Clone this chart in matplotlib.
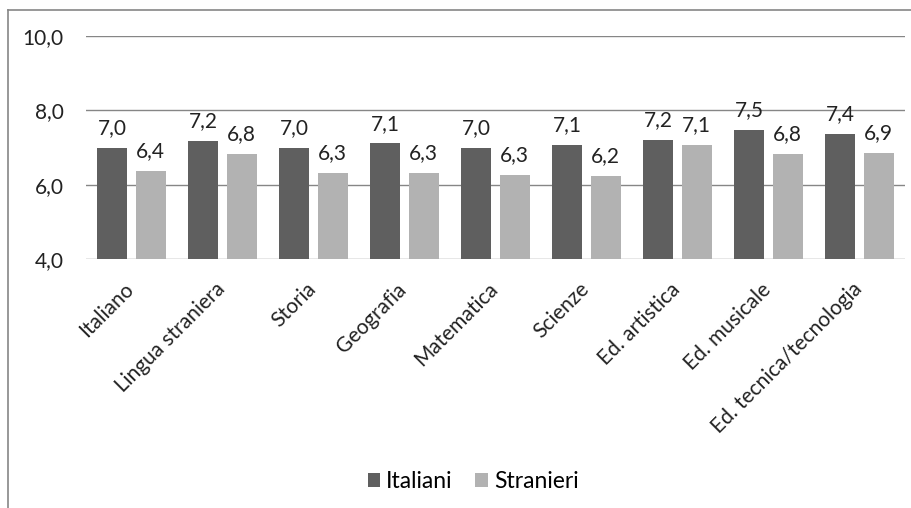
import matplotlib
matplotlib.use('Agg')
import numpy as np
import matplotlib.pyplot as plt
from matplotlib.lines import Line2D
from matplotlib.transforms import ScaledTranslation

plt.rcParams['font.family'] = ['Lato', 'DejaVu Sans']

materie = ['Italiano', 'Lingua straniera', 'Storia', 'Geografia', 'Matematica',
           'Scienze', 'Ed. artistica', 'Ed. musicale', 'Ed. tecnica/tecnologia']
italiani = [7.0, 7.17, 7.0, 7.11, 6.98, 7.06, 7.21, 7.48, 7.36]
stranieri = [6.36, 6.82, 6.31, 6.31, 6.26, 6.23, 7.06, 6.82, 6.86]
serie = ['Italiani', 'Stranieri']
colori = ['#5f5f5f', '#b2b2b2']

W, H = 912, 508
FS = 15
fig = plt.figure(figsize=(W / 100, H / 100), dpi=100)
ax = fig.add_axes([86 / W, 1 - 259 / H, (905 - 86) / W, (259 - 36) / H])

x = np.arange(len(materie))
larg = 0.33
off = 0.21
for i, vals in enumerate([italiani, stranieri]):
    pos = x + (-off if i == 0 else off)
    ax.bar(pos, vals, width=larg, color=colori[i], label=serie[i], zorder=3)
    for px, v in zip(pos, vals):
        ax.annotate(f'{v:.1f}'.replace('.', ','), (px, v), xytext=(0, 7),
                    textcoords='offset points', ha='center', va='bottom',
                    fontsize=FS, color='#222222')

ax.set_ylim(4, 10)
ax.set_xlim(-0.5, len(materie) - 0.5)
ax.set_yticks([4, 6, 8, 10])
ax.set_yticklabels(['4,0', '6,0', '8,0', '10,0'], fontsize=FS, color='#222222')
ax.yaxis.grid(True, color='#868686', linewidth=1, zorder=0)
ax.tick_params(axis='y', length=0, pad=16)
ax.tick_params(axis='x', length=0, pad=8)
ax.set_xticks(x)
ax.set_xticklabels(materie, rotation=45, ha='right', rotation_mode='anchor',
                   fontsize=FS, color='#222222')
sposta = ScaledTranslation(-0.08, -0.09, fig.dpi_scale_trans)
for lab in ax.get_xticklabels():
    lab.set_transform(lab.get_transform() + sposta)
for s in ax.spines.values():
    s.set_visible(False)

fig.legend(loc='center', bbox_to_anchor=(473 / W, 1 - 482 / H), ncol=2,
           frameon=False, fontsize=16.5, handlelength=0.55, handleheight=0.55,
           handletextpad=0.25, columnspacing=1.0)

# cornice del grafico
fig.add_artist(Line2D([8 / W, 8 / W], [0, 1 - 10 / H], color='#868686', lw=1.2))
fig.add_artist(Line2D([8 / W, 1], [1 - 10 / H, 1 - 10 / H], color='#868686', lw=1.2))

fig.savefig('out.png', dpi=100)
